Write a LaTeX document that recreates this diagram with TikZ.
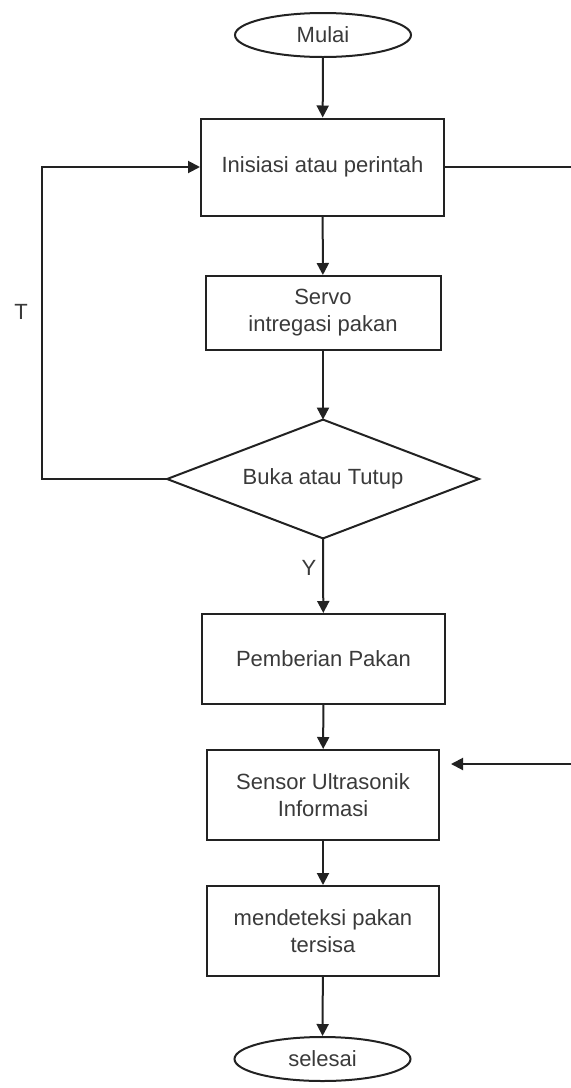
\documentclass[tikz,border=0pt]{standalone}
\usepackage{fontspec}
\setmainfont{Liberation Sans}
\usetikzlibrary{shapes.geometric,arrows.meta}
\definecolor{linec}{HTML}{222222}
\definecolor{textc}{HTML}{3A3A3A}
\begin{document}
\begin{tikzpicture}[x=0.5pt,y=-0.5pt,
  txt/.style={text=textc,font=\fontsize{11}{13.5}\selectfont,align=center},
  box/.style={txt,draw=linec,line width=1pt,rectangle,inner sep=0pt},
  term/.style={txt,draw=linec,line width=1pt,ellipse,inner sep=0pt,minimum width=88pt,minimum height=22pt},
  dec/.style={txt,rectangle,inner sep=0pt,minimum width=155.5pt,minimum height=59pt},
  arr/.style={draw=linec,line width=1pt,-{Triangle[length=6pt,width=6pt]}},
  ln/.style={draw=linec,line width=1pt}]
\path[use as bounding box] (0,0) rectangle (571,1088);
\node[term] (mulai) at (323,35) {Mulai};
\node[box,minimum width=121.5pt,minimum height=48.5pt] (init) at (322.5,167) {Inisiasi atau perintah};
\node[box,minimum width=117.5pt,minimum height=37pt] (servo) at (323,313) {Servo\\intregasi pakan};
\node[dec] (buka) at (323,479) {Buka atau Tutup};
\draw[ln,line join=miter] (buka.north) -- (buka.east) -- (buka.south) -- (buka.west) -- cycle;
\node[box,minimum width=121.5pt,minimum height=45pt] (beri) at (323.5,659) {Pemberian Pakan};
\node[box,minimum width=116pt,minimum height=45pt] (sensor) at (323,795) {Sensor Ultrasonik\\Informasi};
\node[box,minimum width=116pt,minimum height=45pt] (deteksi) at (323,931) {mendeteksi pakan\\tersisa};
\node[term] (selesai) at (322.5,1059) {selesai};
\coordinate (cL) at (42,479);
\coordinate (cT) at (42,167);
\coordinate (cR) at (571,167);
\coordinate (cS) at (571,764);
\node[txt] (tlab) at (21,312) {T};
\node[txt] (ylab) at (309,568) {Y};
\draw[arr] (mulai) -- (init);
\draw[arr] (init) -- (servo);
\draw[arr] (servo) -- (buka.north);
\draw[arr] (buka.south) -- (beri);
\draw[arr] (beri) -- (sensor);
\draw[arr] (sensor) -- (deteksi);
\draw[arr] (deteksi) -- (selesai);
\draw[arr] (buka.west) -- (cL) -- (cT) -- (init.west);
\draw[ln] (init.east) -- (cR);
\draw[arr,shorten >=5.5pt] (cS) -- (sensor.east |- cS);
\end{tikzpicture}
\end{document}
